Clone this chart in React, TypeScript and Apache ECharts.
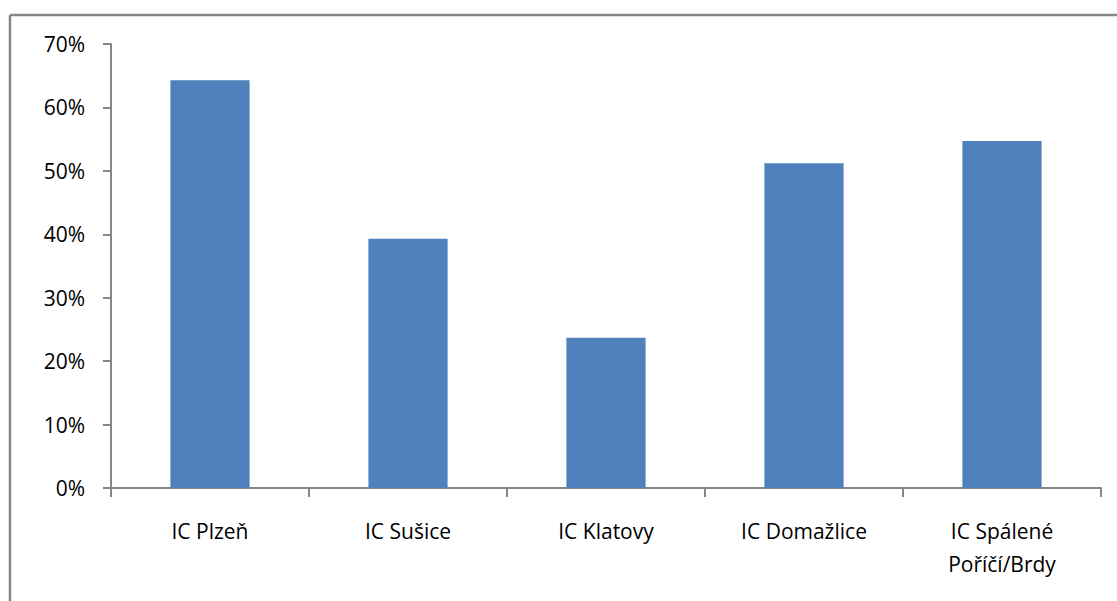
import React, { useEffect, useRef } from "react";
import * as echarts from "echarts";

const categories = ["IC Plzeň", "IC Sušice", "IC Klatovy", "IC Domažlice", "IC Spálené\nPoříčí/Brdy"];
const values = [0.643, 0.393, 0.237, 0.512, 0.547];
const yTicks = { min: 0, max: 0.7, interval: 0.1 };

export default function App() {
  const ref = useRef<HTMLDivElement>(null);
  useEffect(() => {
    if (!ref.current) return;
    const chart = echarts.init(ref.current, null, { renderer: "svg" });
    const font = "'Open Sans', sans-serif";
    chart.setOption({
      animation: false,
      backgroundColor: "#ffffff",
      grid: { left: 111, right: 16, top: 44, bottom: 113, containLabel: false },
      xAxis: {
        type: "category",
        data: categories,
        axisLine: { lineStyle: { color: "#868686", width: 2 } },
        axisTick: { show: true, length: 9, inside: false, alignWithLabel: false, lineStyle: { color: "#868686", width: 2 } },
        axisLabel: {
          color: "#000",
          fontFamily: font,
          fontSize: 21,
          lineHeight: 33,
          margin: 26,
          interval: 0,
        },
      },
      yAxis: {
        type: "value",
        min: yTicks.min,
        max: yTicks.max,
        interval: yTicks.interval,
        axisLine: { show: true, lineStyle: { color: "#868686", width: 2 } },
        axisTick: { show: true, length: 8, lineStyle: { color: "#868686", width: 2 } },
        splitLine: { show: false },
        axisLabel: {
          color: "#000",
          fontFamily: font,
          fontSize: 21,
          margin: 26,
          formatter: (v: number) => Math.round(v * 100) + "%",
        },
      },
      series: [
        {
          type: "bar",
          data: values,
          barWidth: "40%",
          itemStyle: { color: "#4F81BD" },
        },
      ],
      graphic: [
        { type: "line", shape: { x1: 10, y1: 15, x2: 1117, y2: 15 }, style: { stroke: "#868686", lineWidth: 2.5 } },
        { type: "line", shape: { x1: 10, y1: 15, x2: 10, y2: 601 }, style: { stroke: "#868686", lineWidth: 2.5 } },
      ],
    });
    return () => chart.dispose();
  }, []);
  return <div ref={ref} style={{ position: "fixed", left: 0, top: 0, width: 1117, height: 601 }} />;
}
